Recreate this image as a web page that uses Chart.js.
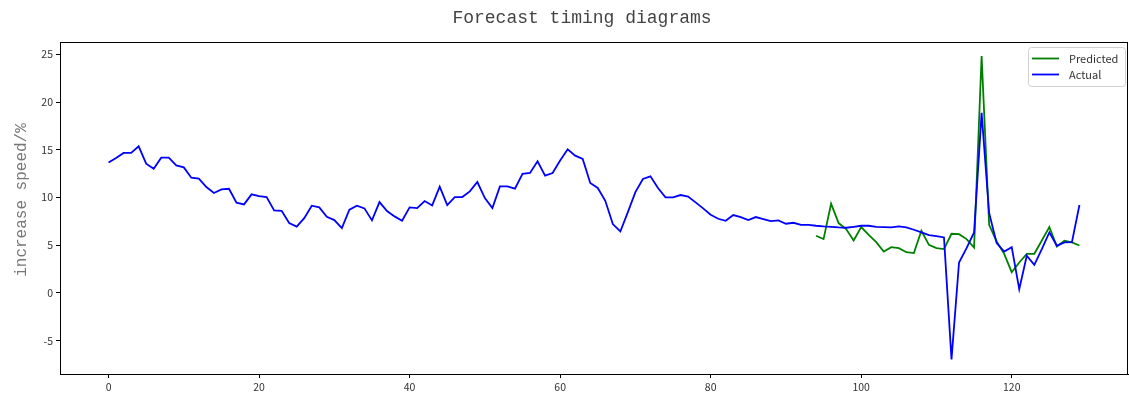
<!DOCTYPE html>
<html>
<head>
<meta charset="utf-8">
<title>Forecast timing diagrams</title>
<script src="https://cdn.jsdelivr.net/npm/chart.js@4.4.0/dist/chart.umd.min.js"></script>
<style>
    body { margin: 0; background: #fff; }
    canvas { display: block; }
</style>
</head>
<body>
<canvas id="forecastChart" width="1129" height="396"></canvas>
<script>
// Forecast timing diagram - actual vs predicted growth

// Chart data
const chartTitle = 'Forecast timing diagrams';
const yAxisTitle = 'increase speed/%';
const seriesNames = ['Predicted', 'Actual'];

// actual series, x = 0 .. 129
const actualValues = [
    13.66, 14.15, 14.67, 14.67, 15.37, 13.55, 13.02, 14.18, 14.18, 13.37,
    13.16, 12.08, 11.97, 11.10, 10.47, 10.85, 10.92, 9.45, 9.28, 10.33,
    10.15, 10.05, 8.65, 8.61, 7.32, 6.95, 7.84, 9.14, 8.96, 7.98,
    7.63, 6.79, 8.72, 9.14, 8.86, 7.60, 9.52, 8.58, 8.02, 7.56,
    8.96, 8.89, 9.63, 9.17, 11.13, 9.21, 10.05, 10.05, 10.64, 11.62,
    9.94, 8.89, 11.17, 11.17, 10.92, 12.47, 12.57, 13.80, 12.29, 12.57,
    13.87, 15.05, 14.39, 14.04, 11.52, 11.00, 9.66, 7.21, 6.44, 8.47,
    10.57, 11.94, 12.22, 11.00, 10.01, 10.01, 10.26, 10.10, 9.49, 8.86,
    8.19, 7.77, 7.56, 8.16, 7.95, 7.63, 7.95, 7.74, 7.53, 7.60,
    7.25, 7.35, 7.14, 7.14, 7.04, 6.97, 6.93, 6.86, 6.83, 6.93,
    7.04, 7.04, 6.93, 6.90, 6.86, 6.97, 6.86, 6.62, 6.34, 6.06,
    5.95, 5.81, -6.97, 3.19, 4.69, 6.34, 18.87, 8.37, 5.22, 4.34,
    4.80, 0.39, 3.89, 2.94, 4.59, 6.34, 4.94, 5.29, 5.32, 9.21
];

// predicted series, starts at x = 94
const predictedStart = 94;
const predictedValues = [
    5.99, 5.64, 9.35, 7.32, 6.69, 5.50, 6.90, 6.09, 5.32, 4.34,
    4.80, 4.69, 4.27, 4.17, 6.51, 5.04, 4.69, 4.59, 6.20, 6.16,
    5.64, 4.76, 24.83, 7.14, 5.39, 4.10, 2.17, 3.19, 4.10, 4.10,
    5.50, 6.90, 4.87, 5.46, 5.29, 4.97
];

// axis ranges and ticks
const xRange = [-6.45, 135.45];
const yRange = [-8.5, 26.3];
const xTickStep = 20;
const yTickStep = 5;

// Colours
const colors = {
    predicted: '#008000',
    actual: '#0000ff',
    axis: '#000000',
    tickText: '#333333',
    title: '#444444',
    yTitle: '#777777'
};

function toPoints(values, start) {
    return values.map((v, i) => ({ x: start + i, y: v }));
}

// Title, y label, frame and legend drawn on top
const decorPlugin = {
    id: 'decor',
    afterDraw(chart) {
        const ctx = chart.ctx;
        const area = chart.chartArea;

        // frame (top / right spines)
        ctx.save();
        ctx.strokeStyle = colors.axis;
        ctx.lineWidth = 1;
        ctx.strokeRect(area.left + 0.5, area.top + 0.5, area.right - area.left - 1, area.bottom - area.top);
        ctx.restore();

        // title
        ctx.save();
        ctx.font = '18px "Liberation Mono", monospace';
        ctx.fillStyle = colors.title;
        ctx.textAlign = 'center';
        ctx.textBaseline = 'middle';
        ctx.fillText(chartTitle, 582, 18);
        ctx.restore();

        // y axis title
        ctx.save();
        ctx.translate(22, 200);
        ctx.rotate(-Math.PI / 2);
        ctx.font = '16px "Liberation Mono", monospace';
        ctx.fillStyle = colors.yTitle;
        ctx.textAlign = 'center';
        ctx.textBaseline = 'middle';
        ctx.fillText(yAxisTitle, 0, 0);
        ctx.restore();

        // legend box
        const boxX = 1028.5, boxY = 47.5, boxW = 97, boxH = 39;
        ctx.save();
        ctx.fillStyle = 'rgba(255,255,255,0.8)';
        ctx.strokeStyle = '#d0d0d0';
        ctx.lineWidth = 1;
        ctx.beginPath();
        ctx.roundRect(boxX, boxY, boxW, boxH, 3);
        ctx.fill();
        ctx.stroke();

        const entries = [
            { label: seriesNames[0], color: colors.predicted, y: 58.5 },
            { label: seriesNames[1], color: colors.actual, y: 74.5 }
        ];
        ctx.font = '11px "Noto Sans CJK SC", "Noto Sans", sans-serif';
        ctx.textAlign = 'left';
        ctx.textBaseline = 'middle';
        entries.forEach(e => {
            ctx.strokeStyle = e.color;
            ctx.lineWidth = 1.8;
            ctx.beginPath();
            ctx.moveTo(1032, e.y);
            ctx.lineTo(1059, e.y);
            ctx.stroke();
            ctx.fillStyle = '#333';
            ctx.fillText(e.label, 1069, e.y);
        });
        ctx.restore();
    }
};

const tickFont = { family: '"Noto Sans CJK SC", "Noto Sans", sans-serif', size: 10.5 };

new Chart(document.getElementById('forecastChart'), {
    type: 'line',
    data: {
        datasets: [
            {
                label: seriesNames[1],
                data: toPoints(actualValues, 0),
                borderColor: colors.actual,
                borderWidth: 1.8,
                pointRadius: 0,
                tension: 0,
                order: 0
            },
            {
                label: seriesNames[0],
                data: toPoints(predictedValues, predictedStart),
                borderColor: colors.predicted,
                borderWidth: 1.8,
                pointRadius: 0,
                tension: 0,
                order: 1
            }
        ]
    },
    options: {
        responsive: false,
        animation: false,
        events: [],
        layout: {
            padding: { top: 42, right: 1, bottom: 0, left: 0 }
        },
        plugins: {
            legend: { display: false },
            title: { display: false },
            tooltip: { enabled: false }
        },
        scales: {
            x: {
                type: 'linear',
                min: xRange[0],
                max: xRange[1],
                afterFit: scale => { scale.height = 22; },
                border: { display: true, color: colors.axis, width: 1 },
                grid: {
                    drawOnChartArea: false,
                    drawTicks: true,
                    tickLength: 4,
                    color: colors.axis
                },
                ticks: {
                    stepSize: xTickStep,
                    includeBounds: false,
                    padding: 3,
                    maxRotation: 0,
                    color: colors.tickText,
                    font: tickFont
                }
            },
            y: {
                type: 'linear',
                min: yRange[0],
                max: yRange[1],
                afterFit: scale => { scale.width = 60; },
                border: { display: true, color: colors.axis, width: 1 },
                grid: {
                    drawOnChartArea: false,
                    drawTicks: true,
                    tickLength: 4,
                    color: colors.axis
                },
                ticks: {
                    stepSize: yTickStep,
                    includeBounds: false,
                    padding: 3,
                    color: colors.tickText,
                    font: tickFont
                }
            }
        }
    },
    plugins: [decorPlugin]
});
</script>
</body>
</html>
